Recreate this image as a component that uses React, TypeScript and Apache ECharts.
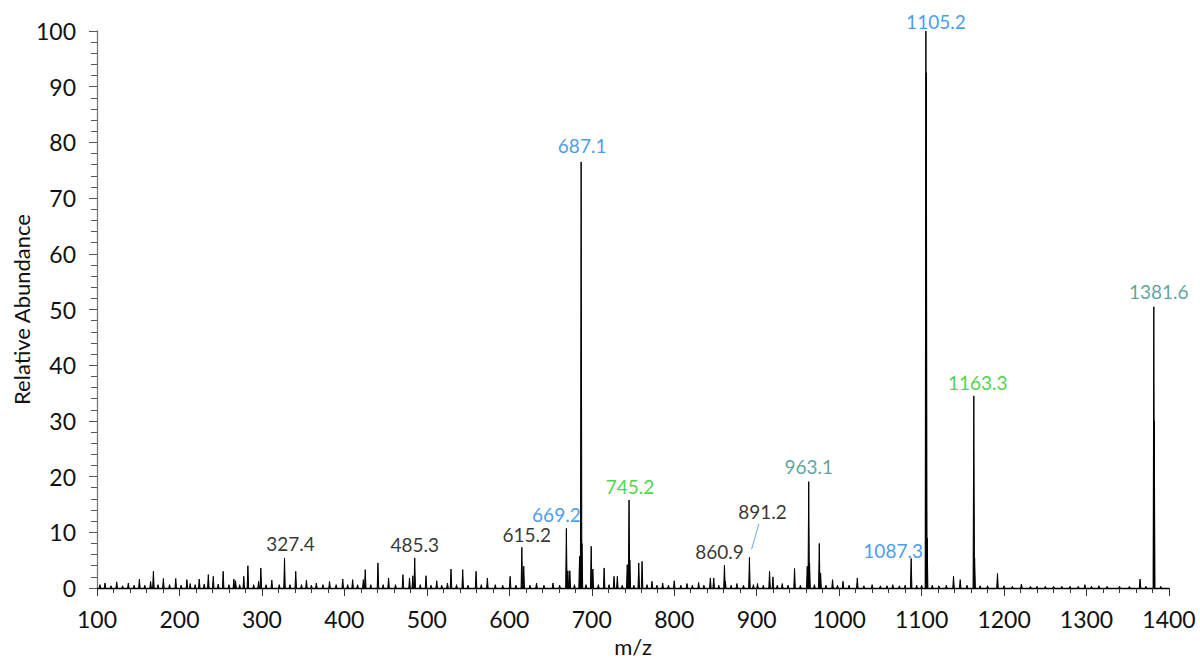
import React, { useEffect, useRef } from "react";
import * as echarts from "echarts";

// Peak list (m/z, relative abundance)
const peakMz: number[] = [
  103.6, 109.7, 117, 123.9, 131, 138, 145, 151.4, 158, 165, 168.4, 174, 180.5, 188, 195.5, 202, 209, 213, 219, 224,
  230, 235, 241, 247, 253, 260, 266, 268, 273, 278, 283, 290, 296, 298.7, 305, 312, 321, 327.4, 334, 341, 348, 354,
  360, 366, 374, 382, 390, 398, 404, 410, 416, 423, 425.3, 432, 440.7, 447, 453.6, 462, 471, 479, 483, 485.3, 492, 499,
  505, 512, 518, 525, 529.3, 536, 543.5, 550, 559.7, 566, 573.4, 583, 592, 601, 608, 615.2, 617.5, 625, 633, 642, 653,
  661, 669.2, 671, 673.4, 679, 685.2, 687.1, 688.1, 693, 699.3, 701.3, 708, 715, 721, 727, 731, 737, 743, 745.2, 746.2,
  751, 757, 761, 767, 773, 779, 786, 793, 800, 808, 815.5, 822, 829.6, 836, 843.8, 847.9, 854, 860.9, 862, 869, 876,
  884, 891.2, 896, 901, 908, 915.6, 919.7, 925, 931, 938, 945.9, 953, 961.3, 963.1, 964.1, 970, 975.9, 977.5, 984,
  992, 998, 1004.7, 1012, 1022, 1030, 1040, 1050, 1058, 1065, 1073, 1080, 1087.3, 1094, 1100, 1105.2, 1105.7, 1106.7,
  1113, 1121, 1130, 1138.7, 1146.8, 1155, 1163.3, 1164.3, 1171, 1180, 1192, 1200, 1210, 1221, 1232, 1240, 1250, 1260,
  1270, 1280, 1290, 1298, 1306, 1315, 1325, 1340, 1352, 1364.9, 1372, 1381.6, 1382.1, 1390,
];
const peakAbundance: number[] = [
  0.6, 0.9, 0.4, 1.1, 0.4, 0.9, 0.5, 1.6, 0.5, 1.2, 3.0, 0.6, 1.7, 0.6, 1.7, 0.5, 1.5, 0.8, 0.6, 1.6,
  0.7, 2.4, 2.1, 0.7, 3.0, 0.6, 1.6, 1.3, 0.6, 2.1, 4.0, 0.6, 1.2, 3.6, 0.6, 1.4, 0.6, 5.4, 0.6, 3.0, 0.6, 1.4,
  0.5, 0.9, 0.6, 1.2, 0.6, 1.6, 0.6, 1.5, 0.6, 1.5, 3.3, 0.6, 4.5, 0.6, 1.8, 0.6, 2.4, 1.8, 2.2, 5.4, 0.6, 2.2,
  0.5, 1.3, 0.5, 0.9, 3.4, 0.6, 3.3, 0.5, 3.0, 0.6, 1.8, 0.6, 0.5, 2.1, 0.5, 7.3, 3.9, 0.5, 0.9, 0.5, 0.9,
  0.5, 10.7, 3.1, 3.1, 0.6, 5.7, 76.5, 8.0, 0.6, 7.5, 3.4, 0.6, 3.6, 0.6, 2.1, 2.1, 0.5, 4.2, 15.8, 5.0,
  0.5, 4.5, 4.8, 0.6, 1.2, 0.5, 0.9, 0.5, 1.3, 0.5, 0.8, 0.5, 1.0, 0.5, 1.8, 1.8, 0.5, 4.1, 1.2, 0.5, 0.8,
  0.5, 5.5, 0.6, 0.8, 0.5, 3.0, 2.0, 0.5, 0.8, 0.5, 3.5, 0.5, 3.9, 19.1, 4.5, 0.6, 8.0, 2.7, 0.5,
  1.5, 0.5, 1.2, 0.5, 1.8, 0.4, 0.6, 0.4, 0.4, 0.6, 0.4, 0.5, 5.3, 0.5, 0.5, 100, 92.5, 9.0,
  0.5, 0.4, 0.5, 2.1, 1.5, 0.5, 34.5, 5.4, 0.4, 0.4, 2.6, 0.4, 0.3, 0.7, 0.3, 0.3, 0.3, 0.3,
  0.3, 0.3, 0.3, 0.6, 0.3, 0.4, 0.3, 0.3, 0.3, 1.6, 0.3, 50.5, 30, 0.3,
];

// Annotated peaks
const labelMz: number[] = [327.4, 485.3, 615.2, 669.2, 687.1, 745.2, 860.9, 891.2, 963.1, 1087.3, 1105.2, 1163.3, 1381.6];
const labelAbundance: number[] = [5.4, 5.4, 7.3, 10.7, 76.5, 15.8, 4.1, 5.5, 19.1, 5.3, 100, 34.5, 50.5];
const labelText: string[] = ["327.4", "485.3", "615.2", "669.2", "687.1", "745.2", "860.9", "891.2", "963.1", "1087.3", "1105.2", "1163.3", "1381.6"];
const labelKind: string[] = ["plain", "plain", "plain", "blue", "blue", "green", "plain", "plain", "teal", "blue", "blue", "green", "teal"];
const labelOffset: number[][] = [
  [6, 0], [0, 1], [5, 2], [-10, 1], [1, -2], [1, 1], [-5, 1], [13, -31], [0, -1], [-18, 7], [10, 5], [4, 1], [5, -1],
];

// Leader line for 891.2 (data coordinates)
const leader891: number[][] = [[902.7, 11.5], [893.8, 6.95]];

const kindColor: Record<string, string> = {
  plain: "#000000",
  blue: "#1582f0",
  green: "#18cc18",
  teal: "#368d85",
};

const FONT = "Lato";

export default function App() {
  const ref = useRef<HTMLDivElement>(null);

  useEffect(() => {
    document.body.style.margin = "0";
    if (!ref.current) return;
    const chart = echarts.init(ref.current, null, { renderer: "svg" });

    const spectrum = peakMz.map((m, i) => [m, peakAbundance[i]]);
    const labels = labelMz.map((m, i) => ({
      value: [m, labelAbundance[i]],
      name: labelText[i],
      label: {
        color: kindColor[labelKind[i]],
        offset: labelOffset[i],
      },
    }));

    chart.setOption({
      animation: false,
      backgroundColor: "#ffffff",
      grid: { left: 97, right: 31, top: 31, bottom: 70, containLabel: false, outerBoundsMode: "none" },
      xAxis: {
        type: "value",
        min: 100,
        max: 1400,
        interval: 100,
        name: "m/z",
        nameLocation: "middle",
        nameGap: 47,
        nameMoveOverlap: false,
        nameTextStyle: { fontFamily: FONT, fontSize: 22, color: "#111" },
        axisLine: { show: true, onZero: false, lineStyle: { color: "#000", width: 1.3 } },
        axisTick: { show: true, inside: false, length: 8, lineStyle: { color: "#333" } },
        minorTick: { show: true, splitNumber: 5, length: 5, lineStyle: { color: "#333" } },
        axisLabel: { fontFamily: FONT, fontSize: 23, color: "#111", margin: 19, formatter: (v: number) => String(v) },
        splitLine: { show: false },
      },
      yAxis: {
        type: "value",
        min: 0,
        max: 100,
        interval: 10,
        name: "Relative Abundance",
        nameLocation: "middle",
        nameGap: 65,
        nameMoveOverlap: false,
        nameTextStyle: { fontFamily: FONT, fontSize: 22, color: "#111" },
        axisLine: { show: true, lineStyle: { color: "#777", width: 1.3 } },
        axisTick: { show: true, inside: false, length: 8, lineStyle: { color: "#555" } },
        minorTick: { show: true, splitNumber: 5, length: 6, lineStyle: { color: "#555" } },
        axisLabel: { fontFamily: FONT, fontSize: 23, color: "#111", margin: 21, formatter: (v: number) => String(v) },
        splitLine: { show: false },
      },
      series: [
        {
          type: "custom",
          name: "spectrum",
          data: spectrum,
          clip: true,
          renderItem: (params: any, api: any) => {
            const x = api.value(0);
            const y = api.value(1);
            const a = api.coord([x - 0.9, 0]);
            const t = api.coord([x, y]);
            const b = api.coord([x + 0.9, 0]);
            return {
              type: "polygon",
              shape: { points: [a, t, b] },
              style: { fill: "#000", stroke: "#000", lineWidth: 1 },
            };
          },
        },
        {
          type: "line",
          name: "leader",
          data: leader891,
          symbol: "none",
          lineStyle: { color: "#6aa6e0", width: 1 },
          z: 3,
        },
        {
          type: "scatter",
          name: "labels",
          data: labels,
          symbolSize: 0,
          silent: true,
          z: 4,
          label: {
            show: true,
            position: "top",
            distance: 5,
            formatter: (p: any) => p.name,
            fontFamily: FONT,
            fontSize: 19,
          },
        },
      ],
    });

    return () => chart.dispose();
  }, []);

  return <div ref={ref} style={{ width: 1200, height: 658 }} />;
}
